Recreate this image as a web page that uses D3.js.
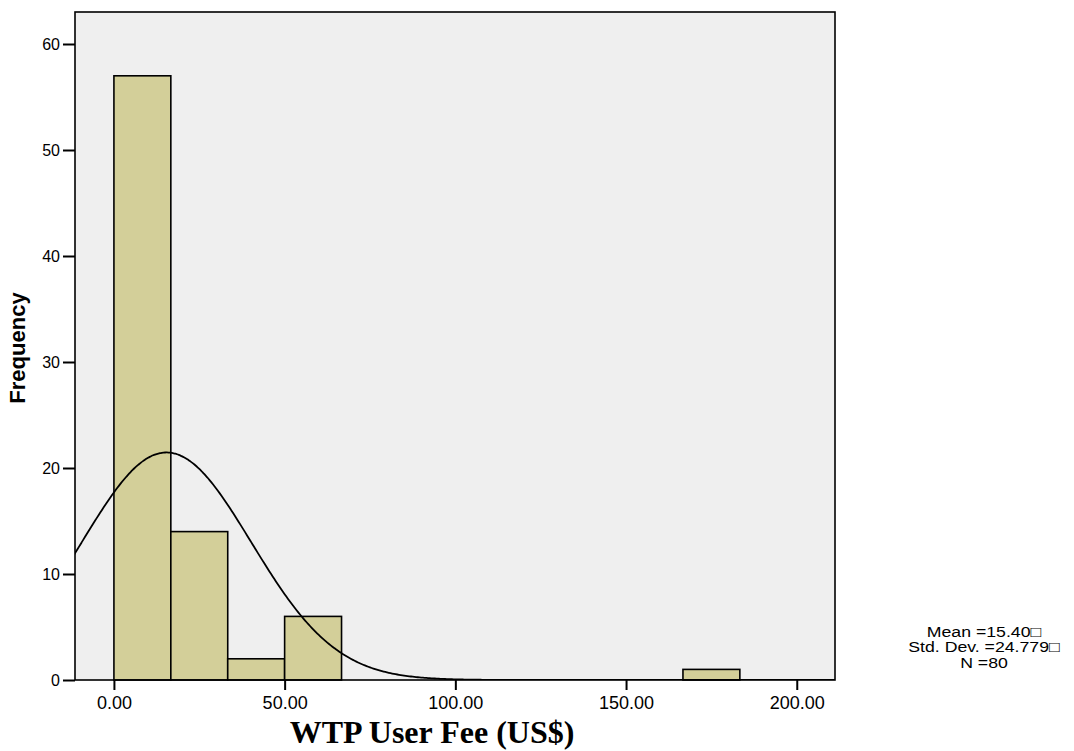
<!DOCTYPE html>
<html>
<head>
<meta charset="utf-8">
<script src="https://cdn.jsdelivr.net/npm/d3@7"></script>
<style>
  body { margin: 0; background: #fff; }
  .tick text { font-family: Arial, "Liberation Sans", sans-serif; }
</style>
</head>
<body>
<div id="chart"></div>
<script>
// histogram bins (lower edge) and counts
const binStarts = [0, 16.667, 33.333, 50, 66.667, 83.333, 100, 116.667, 133.333, 150, 166.667, 183.333];
const binWidth = 16.667;
const counts = [57, 14, 2, 6, 0, 0, 0, 0, 0, 0, 1, 0];
const xTicks = [0, 50, 100, 150, 200];
const yTicks = [0, 10, 20, 30, 40, 50, 60];
const mean = 15.40, sd = 24.779, n = 80;
const statLines = ["Mean =15.40\u25A1", "Std. Dev. =24.779\u25A1", "N =80"];

let width = 1074, height = 751;
let margin = {top: 12, left: 75, right: 239, bottom: 71};
let w = width - margin.left - margin.right,
    h = height - margin.top - margin.bottom;

let svg = d3.select("#chart").append("svg")
    .attr("width", width)
    .attr("height", height);

let g = svg.append("g")
    .attr("transform", "translate(" + margin.left + "," + margin.top + ")");

let x = d3.scaleLinear().domain([-11.4, 211.2]).range([0, w]);
let y = d3.scaleLinear().domain([0, 60]).range([h, h - 636]);

// plot background
g.append("rect")
    .attr("width", w)
    .attr("height", h)
    .attr("fill", "#efefef");

g.append("clipPath").attr("id", "clip")
    .append("rect").attr("width", w).attr("height", h);

// bars
let bars = binStarts.map((b, i) => ({x0: b, x1: b + binWidth, count: counts[i]}))
    .filter(d => d.count > 0);

g.selectAll(".bar")
    .data(bars)
    .enter()
    .append("rect")
    .attr("class", "bar")
    .attr("x", d => x(d.x0))
    .attr("y", d => y(d.count))
    .attr("width", d => x(d.x1) - x(d.x0))
    .attr("height", d => y(0) - y(d.count))
    .attr("fill", "#d3cf99")
    .attr("stroke", "#000")
    .attr("stroke-width", 1.6);

// fitted normal curve from mean / sd / n
let curvePts = d3.range(-12, 212, 0.5).map(v => {
    let z = (v - mean) / sd;
    return [v, n * binWidth * Math.exp(-0.5 * z * z) / (sd * Math.sqrt(2 * Math.PI))];
});

g.append("path")
    .datum(curvePts)
    .attr("clip-path", "url(#clip)")
    .attr("fill", "none")
    .attr("stroke", "#000")
    .attr("stroke-width", 1.8)
    .attr("d", d3.line().x(d => x(d[0])).y(d => y(d[1])).curve(d3.curveBasis));

// frame
g.append("rect")
    .attr("width", w)
    .attr("height", h)
    .attr("fill", "none")
    .attr("stroke", "#000")
    .attr("stroke-width", 1.6);

// axes
let xAxis = g.append("g")
    .attr("transform", "translate(0," + h + ")")
    .call(d3.axisBottom(x).tickValues(xTicks).tickFormat(d3.format(".2f")).tickSize(10).tickSizeOuter(0));
xAxis.select(".domain").remove();
xAxis.selectAll("line").attr("stroke-width", 2);
xAxis.selectAll("text")
    .attr("font-size", 18)
    .attr("y", 29)
    .attr("dy", 0)
    .attr("fill", "#000");

let yAxis = g.append("g")
    .call(d3.axisLeft(y).tickValues(yTicks).tickSize(12).tickSizeOuter(0));
yAxis.select(".domain").remove();
yAxis.selectAll("line").attr("stroke-width", 2);
yAxis.selectAll("text").attr("font-size", 16).attr("x", -15).attr("fill", "#000");

// axis titles
svg.append("text")
    .attr("transform", "translate(25," + (margin.top + h / 2 + 2) + ") rotate(-90)")
    .attr("text-anchor", "middle")
    .style("font-family", "Arial, 'Liberation Sans', sans-serif")
    .style("font-weight", "bold")
    .style("font-size", "22px")
    .text("Frequency");

svg.append("text")
    .attr("x", 432)
    .attr("y", 743)
    .attr("text-anchor", "middle")
    .style("font-family", "'Times New Roman', 'Liberation Serif', serif")
    .style("font-weight", "bold")
    .style("font-size", "32px")
    .text("WTP User Fee (US$)");

// stats box (slightly stretched horizontally, like the reference)
svg.append("g")
    .attr("transform", "translate(984,0) scale(1.18,1)")
    .selectAll("text")
    .data(statLines)
    .enter()
    .append("text")
    .attr("x", 0)
    .attr("y", (d, i) => 637 + i * 15.5)
    .attr("text-anchor", "middle")
    .style("font-family", "Arial, 'Liberation Sans', sans-serif")
    .style("font-size", "15px")
    .text(d => d);
</script>
</body>
</html>
